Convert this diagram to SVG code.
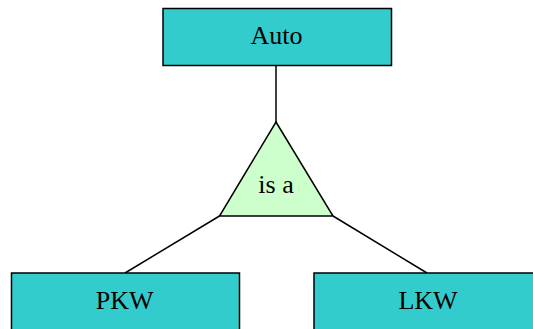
<svg xmlns="http://www.w3.org/2000/svg" width="533" height="329" viewBox="0 0 533 329">
<style>
.box{fill:#33CCCC;stroke:#000;stroke-width:1.5}
.tri{fill:#CCFFCC;stroke:#000;stroke-width:1.5;stroke-linejoin:miter}
.lbl{font-family:"Liberation Serif","Times New Roman",serif;font-size:26px;fill:#000;text-anchor:middle}
.conn{stroke:#000;stroke-width:1.5;fill:none}
</style>
<rect width="533" height="329" fill="#fff"/>
<g id="connectors">
<line class="conn" x1="276" y1="65.5" x2="276" y2="122"/>
<line class="conn" x1="219.5" y1="216" x2="125" y2="273"/>
<line class="conn" x1="333" y1="216" x2="427" y2="273"/>
</g>
<g id="auto">
<rect class="box" x="163" y="8.5" width="228.5" height="57"/>
<text class="lbl" x="276.5" y="44">Auto</text>
</g>
<g id="isa">
<polygon class="tri" points="276,122 333,216 219.5,216"/>
<text class="lbl" x="276" y="193">is a</text>
</g>
<g id="pkw">
<rect class="box" x="11.5" y="273" width="228" height="60"/>
<text class="lbl" x="124.7" y="308.5">PKW</text>
</g>
<g id="lkw">
<rect class="box" x="314" y="273" width="228" height="60"/>
<text class="lbl" x="428" y="308.5">LKW</text>
</g>
</svg>
